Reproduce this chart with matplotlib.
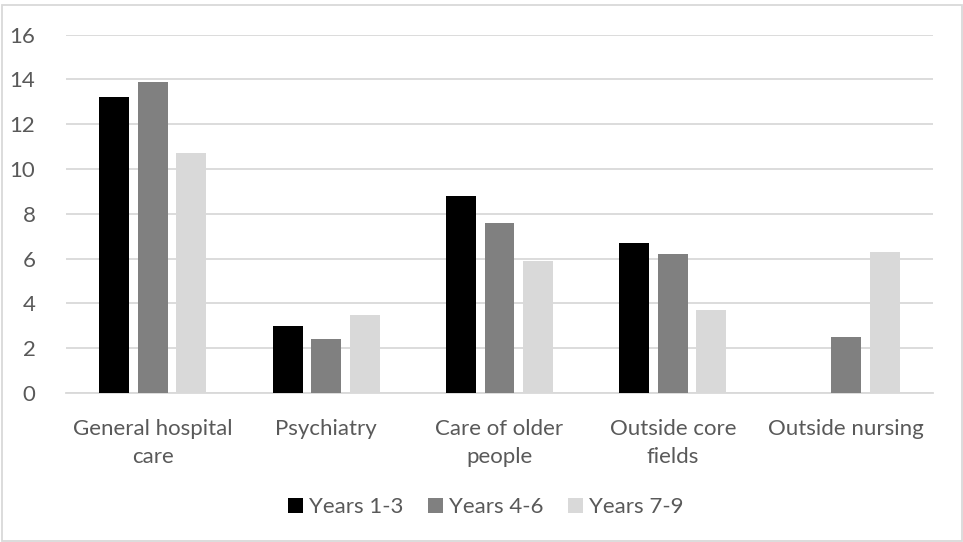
import matplotlib

matplotlib.use("Agg")
import matplotlib.pyplot as plt
import numpy as np
from matplotlib.patches import Rectangle

categories = ["General hospital\ncare", "Psychiatry", "Care of older\npeople", "Outside core\nfields", "Outside nursing"]
series_names = ["Years 1-3", "Years 4-6", "Years 7-9"]
years_1_3 = [13.2, 3.0, 8.8, 6.7, 0.0]
years_4_6 = [13.9, 2.4, 7.6, 6.2, 2.5]
years_7_9 = [10.7, 3.5, 5.9, 3.7, 6.3]
colors = ["#000000", "#808080", "#d9d9d9"]
yticks = [0, 2, 4, 6, 8, 10, 12, 14, 16]

plt.rcParams["font.family"] = ["Lato", "DejaVu Sans"]
text_color = "#595959"
grid_color = "#d9d9d9"

fig = plt.figure(figsize=(9.63, 5.42), dpi=100)
W, H = 963, 542
ax = fig.add_axes([66 / W, (H - 393) / H, (933 - 66) / W, (393 - 34.7) / H])

x = np.arange(len(categories))
step = 0.222
width = 0.173
for i, (vals, name, col) in enumerate(zip([years_1_3, years_4_6, years_7_9], series_names, colors)):
    ax.bar(x + (i - 1) * step, vals, width, color=col, label=name, zorder=3)

ax.set_xlim(-0.5, len(categories) - 0.5)
ax.set_ylim(0, 16)
ax.set_yticks(yticks)
ax.set_xticks(x)
ax.set_xticklabels(categories, linespacing=1.45)
ax.yaxis.grid(True, color=grid_color, linewidth=1.3, zorder=0)
for side in ("top", "right", "left"):
    ax.spines[side].set_visible(False)
ax.spines["bottom"].set_color(grid_color)
ax.spines["bottom"].set_linewidth(1.3)
ax.tick_params(axis="both", length=0, labelsize=16, colors=text_color)
ax.tick_params(axis="y", pad=22)
ax.tick_params(axis="x", pad=19)

leg = fig.legend(
    loc="center",
    bbox_to_anchor=(486 / W, (H - 507) / H),
    ncol=3,
    frameon=False,
    fontsize=16,
    handlelength=0.65,
    handleheight=0.65,
    handletextpad=0.3,
    columnspacing=1.1,
)
for t in leg.get_texts():
    t.set_color(text_color)

fig.patches.append(
    Rectangle((1.5 / W, 1.5 / H), (W - 3) / W, (H - 6) / H, transform=fig.transFigure,
              fill=False, edgecolor=grid_color, linewidth=1.3)
)

fig.savefig("out.png", dpi=100)
